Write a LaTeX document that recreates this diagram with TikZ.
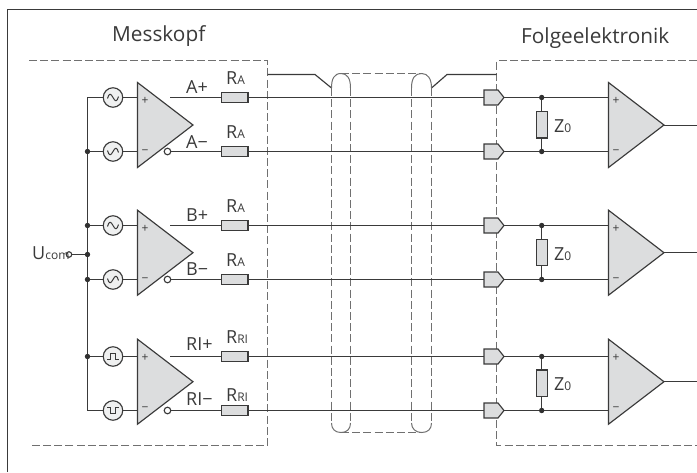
\documentclass[tikz,border=0pt]{standalone}
\usepackage{fontspec}
\setmainfont{Open Sans}
\definecolor{ink}{HTML}{3A3A3A}
\definecolor{dashc}{HTML}{707070}
\definecolor{boxf}{HTML}{DCDDDE}
\newcommand{\bigtxt}{\fontsize{20.8}{24}\selectfont}
\newcommand{\lab}{\fontsize{18}{20}\selectfont}
\newcommand{\subs}[1]{{\fontsize{12}{13}\selectfont #1}}
\tikzset{
 x=1pt,y=-1pt,
 wire/.style={draw=ink,line width=1.15pt},
 dashb/.style={draw=dashc,line width=1.1pt,dash pattern=on 8pt off 3.2pt},
 tube/.style={draw=dashc,line width=1pt},
 tubed/.style={draw=dashc,line width=1pt,dash pattern=on 8pt off 3.2pt},
 source/.style={circle,draw=ink,fill=boxf!45,line width=1.15pt,minimum size=19.5pt,inner sep=0pt},
 res/.style={rectangle,draw=ink,fill=boxf,line width=1.15pt,minimum width=26.5pt,minimum height=10.8pt,inner sep=0pt},
 zres/.style={rectangle,draw=ink,fill=boxf,line width=1.15pt,minimum width=11pt,minimum height=26.5pt,inner sep=0pt},
 bub/.style={circle,draw=ink,fill=white,line width=1.15pt,minimum size=6.6pt,inner sep=0pt},
 dot/.style={circle,fill=ink!85!black,minimum size=5.4pt,inner sep=0pt},
 txt/.style={anchor=base west,inner sep=0pt,text=ink,font=\lab},
 amp/.style={draw=ink,fill=boxf,line width=1.15pt,line join=miter},
}
\newcommand{\ampat}[2]{\path[amp] (#1,#2-42.5) -- (#1+55.5,#2) -- (#1,#2+42.5) -- cycle;}
\newcommand{\buf}[1]{\path[amp] (484,#1-7.5) -- (498,#1-7.5) -- (504,#1) -- (498,#1+7.5) -- (484,#1+7.5) -- cycle;}
\newcommand{\sinep}{(-5.5,1) .. controls (-4,-5) and (-2,-4) .. (0,0) .. controls (2,4) and (4,5) .. (5.5,-1)}
\newcommand{\sinem}{(-5.5,-1) .. controls (-4,5) and (-2,4) .. (0,0) .. controls (2,-4) and (4,-5) .. (5.5,1)}
\newcommand{\pulsep}{(-6,2.8) -- (-2.6,2.8) -- (-2.6,-3) -- (2.6,-3) -- (2.6,2.8) -- (6,2.8)}
\newcommand{\pulsem}{(-6,-2.8) -- (-2.6,-2.8) -- (-2.6,3) -- (2.6,3) -- (2.6,-2.8) -- (6,-2.8)}
\begin{document}
\begin{tikzpicture}
\useasboundingbox (0,0) rectangle (697,472);
% frame
\draw[wire] (7.5,472) -- (7.5,9.5) -- (697,9.5);
% titles
\node[txt,font=\bigtxt] (tm) at (112,41.5) {Messkopf};
\node[txt,font=\bigtxt] (tf) at (521,43) {Folgeelektronik};
% region borders
\draw[dashb] (29,60.5) -- (267.5,60.5) -- (267.5,445.5) -- (29,445.5);
\draw[dashb] (697,60.5) -- (496.5,60.5) -- (496.5,445.5) -- (697,445.5);
% cable
\coordinate (cl) at (331.5,88);
\coordinate (cr) at (431.5,88);
\draw[wire] (267.5,74.5) -- (315,74.5) -- (cl);
\draw[wire] (496.5,74.5) -- (447,74.5) -- (cr);
\draw[tubed] (331.5,88) -- (331.5,423);
\draw[tubed] (350.5,88) -- (350.5,423);
\draw[tubed] (411.5,88) -- (411.5,423);
\draw[tubed] (431.5,88) -- (431.5,423);
\draw[tubed] (341,73.5) -- (421.7,73.5);
\draw[tubed] (341,432.5) -- (421.7,432.5);
\draw[tube] (331.5,88) .. controls (331.5,79) and (334,73.5) .. (341,73.5) .. controls (347,73.5) and (350.5,78) .. (350.5,88);
\draw[tube] (411.5,88) .. controls (411.5,78) and (415,73.5) .. (421.7,73.5) .. controls (428,73.5) and (431.5,79) .. (431.5,88);
\draw[tube] (331.5,423) .. controls (331.5,429) and (335,432.5) .. (341,432.5) .. controls (347,432.5) and (350.5,429) .. (350.5,423);
\draw[tube] (411.5,423) .. controls (411.5,429) and (416,432.5) .. (421.7,432.5) .. controls (428,432.5) and (431.5,429) .. (431.5,423);
% sources
\node[source] (s1) at (113,97.5) {};
\node[source] (s2) at (113,151.5) {};
\node[source] (s3) at (113,225.5) {};
\node[source] (s4) at (113,279.5) {};
\node[source] (s5) at (113,356.5) {};
\node[source] (s6) at (113,410.5) {};
\foreach \n/\g in {s1/\sinep,s2/\sinem,s3/\sinep,s4/\sinem,s5/\pulsep,s6/\pulsem}{
  \draw[ink,line width=1pt,shift={(\n.center)}] \g;
}
% bus
\coordinate (bt) at (87.5,97.5);
\coordinate (bb) at (87.5,410.5);
\draw[wire] (s1.west) -- (bt) -- (bb) -- (s6.west);
\node[dot] (d2) at (87.5,151.5) {};
\node[dot] (d3) at (87.5,225.5) {};
\node[dot] (d0) at (87.5,254.5) {};
\node[dot] (d4) at (87.5,279.5) {};
\node[dot] (d5) at (87.5,356.5) {};
\draw[wire] (s2.west) -- (d2);
\draw[wire] (s3.west) -- (d3);
\draw[wire] (s4.west) -- (d4);
\draw[wire] (s5.west) -- (d5);
\node[txt] (ut) at (32,259.5) {U\subs{com}};
\node[bub,minimum size=5.5pt,fill=none] (uc) at (69,254.5) {};
\draw[wire] (uc) -- (d0);
% wires through resistors
\foreach \n/\y in {1/97.5,2/151.5,3/225.5,4/279.5,5/356.5,6/410.5}{
  \coordinate (in\n) at (137.5,\y);
  \coordinate (ra\n) at (608.3,\y);
  \coordinate (ob\n) at (170,\y);
  \draw[wire] (s\n.east) -- (in\n);
  \draw[wire] (ob\n) -- (ra\n);
}
% amps
\ampat{137.5}{125}
\ampat{137.5}{252.7}
\ampat{137.5}{381.7}
\ampat{608.5}{125}
\ampat{608.5}{252.7}
\ampat{608.5}{381.7}
% outputs
\coordinate (o1) at (697,125.5);
\coordinate (o2) at (697,252.5);
\coordinate (o3) at (697,381.5);
\draw[wire] (663.8,125.5) -- (o1);
\draw[wire] (663.8,252.5) -- (o2);
\draw[wire] (663.8,381.5) -- (o3);
% signs
\foreach \x/\y/\t in {145/101/+,145/152/−,145/229/+,145/279.7/−,145/358/+,145/409/−,616/101/+,616/152/−,616/229/+,616/279.7/−,616/358/+,616/409/−}{
  \node[inner sep=0pt,text=ink,font=\fontsize{12}{12}\selectfont] at (\x,\y) {\t};
}
% bubbles
\node[bub] (b2) at (167.5,151.5) {};
\node[bub] (b4) at (167.5,279.5) {};
\node[bub] (b6) at (167.5,410.5) {};
% resistors
\foreach \n/\y in {1/97.5,2/151.5,3/225.5,4/279.5,5/356.5,6/410.5}{
  \node[res] (r\n) at (234.8,\y) {};
  \buf{\y}
}
% termination
\foreach \n/\a/\b/\c in {1/97.5/151.5/124.8,2/225.5/279.5/252.6,3/356.5/410.5/383.2}{
  \node[dot] (zt\n) at (541.7,\a) {};
  \node[dot] (zb\n) at (541.7,\b) {};
  \node[zres] (z\n) at (541.7,\c) {};
  \draw[wire] (zt\n) -- (z\n);
  \draw[wire] (zb\n) -- (z\n);
  \node[txt] (zl\n) at (554,\c+7.5) {Z\subs{0}};
}
% labels
\node[txt] (la1) at (186,93) {A+};
\node[txt] (la2) at (186,148) {A−};
\node[txt] (la3) at (186,221.7) {B+};
\node[txt] (la4) at (186,275) {B−};
\node[txt] (la5) at (186,350.7) {RI+};
\node[txt] (la6) at (186,405.7) {RI−};
\node[txt] (lr1) at (226,84) {R\subs{A}};
\node[txt] (lr2) at (226,138) {R\subs{A}};
\node[txt] (lr3) at (226,212) {R\subs{A}};
\node[txt] (lr4) at (226,266) {R\subs{A}};
\node[txt] (lr5) at (226,343.3) {R\subs{RI}};
\node[txt] (lr6) at (226,401) {R\subs{RI}};
\end{tikzpicture}
\end{document}
